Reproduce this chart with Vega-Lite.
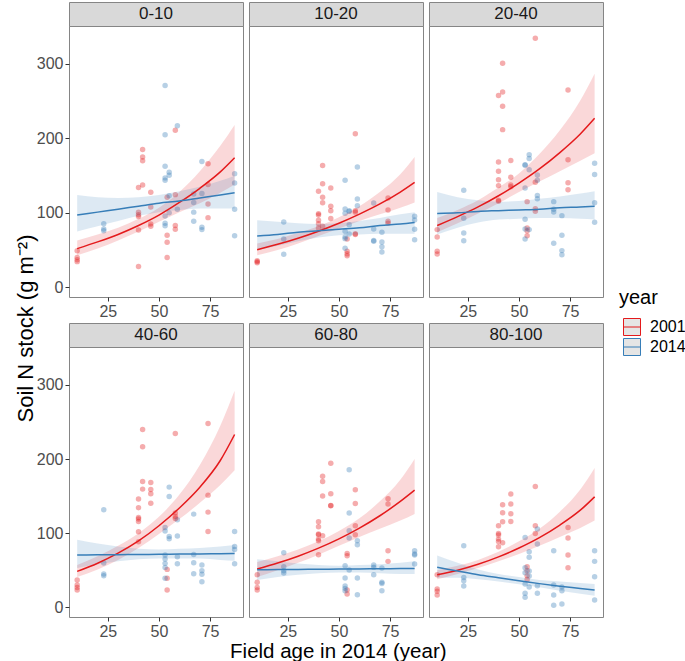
{
"$schema": "https://vega.github.io/schema/vega-lite/v6.json",
"background": "white",
"padding": {"left": 13, "top": 1, "right": 0, "bottom": 0},
"bounds": "flush",
"columns": 3,
"spacing": {"row": 0, "column": 6},
"datasets": {
"pts": [
{"depth":"0-10","year":"2001","age":10,"n":49},{"depth":"0-10","year":"2001","age":10,"n":40},{"depth":"0-10","year":"2001","age":10,"n":37},{"depth":"0-10","year":"2001","age":10,"n":34.5},
{"depth":"0-10","year":"2001","age":40,"n":28},{"depth":"0-10","year":"2001","age":40,"n":77},{"depth":"0-10","year":"2001","age":40,"n":134},{"depth":"0-10","year":"2001","age":40,"n":101},{"depth":"0-10","year":"2001","age":40,"n":97.6},{"depth":"0-10","year":"2001","age":40,"n":95},
{"depth":"0-10","year":"2001","age":42,"n":185},{"depth":"0-10","year":"2001","age":42,"n":175},{"depth":"0-10","year":"2001","age":42,"n":170},{"depth":"0-10","year":"2001","age":42,"n":137.5},
{"depth":"0-10","year":"2001","age":46,"n":127.6},{"depth":"0-10","year":"2001","age":46,"n":108},{"depth":"0-10","year":"2001","age":46,"n":85},{"depth":"0-10","year":"2001","age":46,"n":82},
{"depth":"0-10","year":"2001","age":54,"n":121},{"depth":"0-10","year":"2001","age":54,"n":70},{"depth":"0-10","year":"2001","age":54,"n":60.5},{"depth":"0-10","year":"2001","age":54,"n":40},
{"depth":"0-10","year":"2001","age":58,"n":211},{"depth":"0-10","year":"2001","age":58,"n":124.5},{"depth":"0-10","year":"2001","age":58,"n":83},{"depth":"0-10","year":"2001","age":58,"n":78},
{"depth":"0-10","year":"2001","age":74,"n":166},{"depth":"0-10","year":"2001","age":74,"n":138},{"depth":"0-10","year":"2001","age":74,"n":112},{"depth":"0-10","year":"2001","age":74,"n":93.6},
{"depth":"0-10","year":"2014","age":23,"n":85.5},{"depth":"0-10","year":"2014","age":23,"n":78.4},{"depth":"0-10","year":"2014","age":23,"n":76},
{"depth":"0-10","year":"2014","age":53,"n":271},{"depth":"0-10","year":"2014","age":53,"n":205},{"depth":"0-10","year":"2014","age":53,"n":162.6},{"depth":"0-10","year":"2014","age":53,"n":147},{"depth":"0-10","year":"2014","age":53,"n":143.8},{"depth":"0-10","year":"2014","age":53,"n":95.8},{"depth":"0-10","year":"2014","age":53,"n":86},{"depth":"0-10","year":"2014","age":53,"n":82.8},
{"depth":"0-10","year":"2014","age":55,"n":154.5},{"depth":"0-10","year":"2014","age":55,"n":150.5},{"depth":"0-10","year":"2014","age":55,"n":123},{"depth":"0-10","year":"2014","age":55,"n":100},
{"depth":"0-10","year":"2014","age":59,"n":217},{"depth":"0-10","year":"2014","age":59,"n":105},
{"depth":"0-10","year":"2014","age":67,"n":125.4},{"depth":"0-10","year":"2014","age":67,"n":114},{"depth":"0-10","year":"2014","age":67,"n":101},{"depth":"0-10","year":"2014","age":67,"n":88.7},
{"depth":"0-10","year":"2014","age":71,"n":169},{"depth":"0-10","year":"2014","age":71,"n":126},{"depth":"0-10","year":"2014","age":71,"n":80.6},{"depth":"0-10","year":"2014","age":71,"n":77.5},
{"depth":"0-10","year":"2014","age":87,"n":152.7},{"depth":"0-10","year":"2014","age":87,"n":140},{"depth":"0-10","year":"2014","age":87,"n":105},{"depth":"0-10","year":"2014","age":87,"n":69.4},

{"depth":"10-20","year":"2001","age":10,"n":35.8},{"depth":"10-20","year":"2001","age":10,"n":34.5},{"depth":"10-20","year":"2001","age":10,"n":33.1},
{"depth":"10-20","year":"2001","age":40,"n":129},{"depth":"10-20","year":"2001","age":40,"n":99},{"depth":"10-20","year":"2001","age":40,"n":97},{"depth":"10-20","year":"2001","age":40,"n":90},{"depth":"10-20","year":"2001","age":40,"n":85.5},{"depth":"10-20","year":"2001","age":40,"n":79.7},
{"depth":"10-20","year":"2001","age":42,"n":163.5},{"depth":"10-20","year":"2001","age":42,"n":139},{"depth":"10-20","year":"2001","age":42,"n":121},{"depth":"10-20","year":"2001","age":42,"n":113.7},{"depth":"10-20","year":"2001","age":42,"n":82},
{"depth":"10-20","year":"2001","age":46,"n":133.5},{"depth":"10-20","year":"2001","age":46,"n":108.8},{"depth":"10-20","year":"2001","age":46,"n":103},{"depth":"10-20","year":"2001","age":46,"n":92.3},
{"depth":"10-20","year":"2001","age":54,"n":65},{"depth":"10-20","year":"2001","age":54,"n":48.4},{"depth":"10-20","year":"2001","age":54,"n":45},{"depth":"10-20","year":"2001","age":54,"n":42.5},
{"depth":"10-20","year":"2001","age":58,"n":206.4},{"depth":"10-20","year":"2001","age":58,"n":103},{"depth":"10-20","year":"2001","age":58,"n":101},{"depth":"10-20","year":"2001","age":58,"n":72},{"depth":"10-20","year":"2001","age":58,"n":70.8},
{"depth":"10-20","year":"2001","age":74,"n":120},{"depth":"10-20","year":"2001","age":74,"n":104},{"depth":"10-20","year":"2001","age":74,"n":88.7},{"depth":"10-20","year":"2001","age":74,"n":86},
{"depth":"10-20","year":"2014","age":23,"n":87.8},{"depth":"10-20","year":"2014","age":23,"n":65},{"depth":"10-20","year":"2014","age":23,"n":44.3},
{"depth":"10-20","year":"2014","age":53,"n":143.8},{"depth":"10-20","year":"2014","age":53,"n":105.2},{"depth":"10-20","year":"2014","age":53,"n":99.4},{"depth":"10-20","year":"2014","age":53,"n":75.2},{"depth":"10-20","year":"2014","age":53,"n":67.6},{"depth":"10-20","year":"2014","age":53,"n":65.4},{"depth":"10-20","year":"2014","age":53,"n":52.4},
{"depth":"10-20","year":"2014","age":55,"n":103},{"depth":"10-20","year":"2014","age":55,"n":102},{"depth":"10-20","year":"2014","age":55,"n":84.2},{"depth":"10-20","year":"2014","age":55,"n":71.7},
{"depth":"10-20","year":"2014","age":59,"n":161.7},{"depth":"10-20","year":"2014","age":59,"n":118.7},{"depth":"10-20","year":"2014","age":59,"n":109.7},
{"depth":"10-20","year":"2014","age":67,"n":113.3},{"depth":"10-20","year":"2014","age":67,"n":78.4},{"depth":"10-20","year":"2014","age":67,"n":63},{"depth":"10-20","year":"2014","age":67,"n":61.8},
{"depth":"10-20","year":"2014","age":71,"n":73.9},{"depth":"10-20","year":"2014","age":71,"n":60.9},{"depth":"10-20","year":"2014","age":71,"n":54.6},{"depth":"10-20","year":"2014","age":71,"n":47.5},
{"depth":"10-20","year":"2014","age":87,"n":95.4},{"depth":"10-20","year":"2014","age":87,"n":90.5},{"depth":"10-20","year":"2014","age":87,"n":77.9},{"depth":"10-20","year":"2014","age":87,"n":64},

{"depth":"20-40","year":"2001","age":10,"n":77.5},{"depth":"20-40","year":"2001","age":10,"n":67.6},{"depth":"20-40","year":"2001","age":10,"n":48.4},{"depth":"20-40","year":"2001","age":10,"n":44.8},
{"depth":"20-40","year":"2001","age":40,"n":257.5},{"depth":"20-40","year":"2001","age":40,"n":168.4},{"depth":"20-40","year":"2001","age":40,"n":155.8},{"depth":"20-40","year":"2001","age":40,"n":144.6},{"depth":"20-40","year":"2001","age":40,"n":136.6},{"depth":"20-40","year":"2001","age":40,"n":116.9},{"depth":"20-40","year":"2001","age":40,"n":115.5},
{"depth":"20-40","year":"2001","age":42,"n":301},{"depth":"20-40","year":"2001","age":42,"n":262.4},{"depth":"20-40","year":"2001","age":42,"n":243.2},{"depth":"20-40","year":"2001","age":42,"n":211.8},
{"depth":"20-40","year":"2001","age":46,"n":170.2},{"depth":"20-40","year":"2001","age":46,"n":147.8},{"depth":"20-40","year":"2001","age":46,"n":137.5},{"depth":"20-40","year":"2001","age":46,"n":135.2},
{"depth":"20-40","year":"2001","age":54,"n":115.1},{"depth":"20-40","year":"2001","age":54,"n":79.7},{"depth":"20-40","year":"2001","age":54,"n":76.1},{"depth":"20-40","year":"2001","age":54,"n":69.4},
{"depth":"20-40","year":"2001","age":58,"n":334.5},{"depth":"20-40","year":"2001","age":58,"n":141},{"depth":"20-40","year":"2001","age":58,"n":105.7},{"depth":"20-40","year":"2001","age":58,"n":102.1},
{"depth":"20-40","year":"2001","age":74,"n":265},{"depth":"20-40","year":"2001","age":74,"n":171.5},{"depth":"20-40","year":"2001","age":74,"n":140.6},{"depth":"20-40","year":"2001","age":74,"n":131.2},
{"depth":"20-40","year":"2014","age":23,"n":130.3},{"depth":"20-40","year":"2014","age":23,"n":92.7},{"depth":"20-40","year":"2014","age":23,"n":73},{"depth":"20-40","year":"2014","age":23,"n":62.7},
{"depth":"20-40","year":"2014","age":53,"n":164.8},{"depth":"20-40","year":"2014","age":53,"n":163.9},{"depth":"20-40","year":"2014","age":53,"n":133.5},{"depth":"20-40","year":"2014","age":53,"n":91.4},{"depth":"20-40","year":"2014","age":53,"n":78.4},{"depth":"20-40","year":"2014","age":53,"n":65},
{"depth":"20-40","year":"2014","age":55,"n":178.2},{"depth":"20-40","year":"2014","age":55,"n":172.9},{"depth":"20-40","year":"2014","age":55,"n":158},{"depth":"20-40","year":"2014","age":55,"n":77.5},
{"depth":"20-40","year":"2014","age":59,"n":151},{"depth":"20-40","year":"2014","age":59,"n":143.8},{"depth":"20-40","year":"2014","age":59,"n":123.2},{"depth":"20-40","year":"2014","age":59,"n":119.1},
{"depth":"20-40","year":"2014","age":67,"n":115.1},{"depth":"20-40","year":"2014","age":67,"n":104.8},{"depth":"20-40","year":"2014","age":67,"n":101.2},{"depth":"20-40","year":"2014","age":67,"n":59.1},
{"depth":"20-40","year":"2014","age":71,"n":96.3},{"depth":"20-40","year":"2014","age":71,"n":69.9},{"depth":"20-40","year":"2014","age":71,"n":49.3},{"depth":"20-40","year":"2014","age":71,"n":43.9},
{"depth":"20-40","year":"2014","age":87,"n":166.6},{"depth":"20-40","year":"2014","age":87,"n":151.4},{"depth":"20-40","year":"2014","age":87,"n":113.7},{"depth":"20-40","year":"2014","age":87,"n":87.3},

{"depth":"40-60","year":"2001","age":10,"n":36.8},{"depth":"40-60","year":"2001","age":10,"n":30.1},{"depth":"40-60","year":"2001","age":10,"n":26.9},{"depth":"40-60","year":"2001","age":10,"n":23.3},
{"depth":"40-60","year":"2001","age":40,"n":146},{"depth":"40-60","year":"2001","age":40,"n":134.3},{"depth":"40-60","year":"2001","age":40,"n":121.2},{"depth":"40-60","year":"2001","age":40,"n":119},{"depth":"40-60","year":"2001","age":40,"n":115.8},{"depth":"40-60","year":"2001","age":40,"n":101.9},{"depth":"40-60","year":"2001","age":40,"n":88.5},
{"depth":"40-60","year":"2001","age":42,"n":239.8},{"depth":"40-60","year":"2001","age":42,"n":216.4},{"depth":"40-60","year":"2001","age":42,"n":169.7},{"depth":"40-60","year":"2001","age":42,"n":159.4},
{"depth":"40-60","year":"2001","age":46,"n":168.4},{"depth":"40-60","year":"2001","age":46,"n":159},{"depth":"40-60","year":"2001","age":46,"n":153.1},{"depth":"40-60","year":"2001","age":46,"n":140.5},
{"depth":"40-60","year":"2001","age":54,"n":51.2},{"depth":"40-60","year":"2001","age":54,"n":39.1},{"depth":"40-60","year":"2001","age":54,"n":23.3},
{"depth":"40-60","year":"2001","age":58,"n":234.4},{"depth":"40-60","year":"2001","age":58,"n":127.1},{"depth":"40-60","year":"2001","age":58,"n":122.6},{"depth":"40-60","year":"2001","age":58,"n":119.9},
{"depth":"40-60","year":"2001","age":74,"n":247.9},{"depth":"40-60","year":"2001","age":74,"n":151.3},{"depth":"40-60","year":"2001","age":74,"n":128.4},{"depth":"40-60","year":"2001","age":74,"n":102.4},
{"depth":"40-60","year":"2014","age":23,"n":131.6},{"depth":"40-60","year":"2014","age":23,"n":59.7},{"depth":"40-60","year":"2014","age":23,"n":44.9},{"depth":"40-60","year":"2014","age":23,"n":42.7},
{"depth":"40-60","year":"2014","age":53,"n":107.8},{"depth":"40-60","year":"2014","age":53,"n":102.8},{"depth":"40-60","year":"2014","age":53,"n":70.5},{"depth":"40-60","year":"2014","age":53,"n":65.1},{"depth":"40-60","year":"2014","age":53,"n":59.3},{"depth":"40-60","year":"2014","age":53,"n":53.9},{"depth":"40-60","year":"2014","age":53,"n":39.1},
{"depth":"40-60","year":"2014","age":55,"n":162.1},{"depth":"40-60","year":"2014","age":55,"n":149.5},{"depth":"40-60","year":"2014","age":55,"n":95.6},{"depth":"40-60","year":"2014","age":55,"n":92.5},
{"depth":"40-60","year":"2014","age":59,"n":118.1},{"depth":"40-60","year":"2014","age":59,"n":96.1},{"depth":"40-60","year":"2014","age":59,"n":68.3},{"depth":"40-60","year":"2014","age":59,"n":58.8},
{"depth":"40-60","year":"2014","age":67,"n":125.7},{"depth":"40-60","year":"2014","age":67,"n":71.4},{"depth":"40-60","year":"2014","age":67,"n":60.2},{"depth":"40-60","year":"2014","age":67,"n":45.4},
{"depth":"40-60","year":"2014","age":71,"n":57},{"depth":"40-60","year":"2014","age":71,"n":49.4},{"depth":"40-60","year":"2014","age":71,"n":44.5},{"depth":"40-60","year":"2014","age":71,"n":34.6},
{"depth":"40-60","year":"2014","age":87,"n":102.4},{"depth":"40-60","year":"2014","age":87,"n":82.2},{"depth":"40-60","year":"2014","age":87,"n":78.1},{"depth":"40-60","year":"2014","age":87,"n":58.8},

{"depth":"60-80","year":"2001","age":10,"n":44},{"depth":"60-80","year":"2001","age":10,"n":33.7},{"depth":"60-80","year":"2001","age":10,"n":26.9},{"depth":"60-80","year":"2001","age":10,"n":23.3},
{"depth":"60-80","year":"2001","age":40,"n":115.4},{"depth":"60-80","year":"2001","age":40,"n":108.7},{"depth":"60-80","year":"2001","age":40,"n":98.8},{"depth":"60-80","year":"2001","age":40,"n":97.9},{"depth":"60-80","year":"2001","age":40,"n":92},{"depth":"60-80","year":"2001","age":40,"n":89.8},{"depth":"60-80","year":"2001","age":40,"n":70.9},
{"depth":"60-80","year":"2001","age":42,"n":176.9},{"depth":"60-80","year":"2001","age":42,"n":169.7},{"depth":"60-80","year":"2001","age":42,"n":150},{"depth":"60-80","year":"2001","age":42,"n":96.5},
{"depth":"60-80","year":"2001","age":46,"n":194.4},{"depth":"60-80","year":"2001","age":46,"n":153.1},{"depth":"60-80","year":"2001","age":46,"n":137.4},{"depth":"60-80","year":"2001","age":46,"n":137},
{"depth":"60-80","year":"2001","age":54,"n":72.7},{"depth":"60-80","year":"2001","age":54,"n":69.6},{"depth":"60-80","year":"2001","age":54,"n":23.3},{"depth":"60-80","year":"2001","age":54,"n":18},
{"depth":"60-80","year":"2001","age":58,"n":158.5},{"depth":"60-80","year":"2001","age":58,"n":140.1},{"depth":"60-80","year":"2001","age":58,"n":110},{"depth":"60-80","year":"2001","age":58,"n":97.9},
{"depth":"60-80","year":"2001","age":74,"n":146.4},{"depth":"60-80","year":"2001","age":74,"n":139.2},{"depth":"60-80","year":"2001","age":74,"n":76.3},{"depth":"60-80","year":"2001","age":74,"n":62},
{"depth":"60-80","year":"2014","age":23,"n":73.6},{"depth":"60-80","year":"2014","age":23,"n":54.8},{"depth":"60-80","year":"2014","age":23,"n":49.4},{"depth":"60-80","year":"2014","age":23,"n":46.3},
{"depth":"60-80","year":"2014","age":53,"n":56.1},{"depth":"60-80","year":"2014","age":53,"n":39.5},{"depth":"60-80","year":"2014","age":53,"n":28.7},{"depth":"60-80","year":"2014","age":53,"n":25.6},{"depth":"60-80","year":"2014","age":53,"n":22.5},
{"depth":"60-80","year":"2014","age":55,"n":185.4},{"depth":"60-80","year":"2014","age":55,"n":127.1},{"depth":"60-80","year":"2014","age":55,"n":103.3},{"depth":"60-80","year":"2014","age":55,"n":93.4},{"depth":"60-80","year":"2014","age":55,"n":50.3},
{"depth":"60-80","year":"2014","age":59,"n":89.8},{"depth":"60-80","year":"2014","age":59,"n":84.4},{"depth":"60-80","year":"2014","age":59,"n":39.5},{"depth":"60-80","year":"2014","age":59,"n":17.1},
{"depth":"60-80","year":"2014","age":67,"n":57},{"depth":"60-80","year":"2014","age":67,"n":53.9},{"depth":"60-80","year":"2014","age":67,"n":44},
{"depth":"60-80","year":"2014","age":71,"n":53},{"depth":"60-80","year":"2014","age":71,"n":33.7},{"depth":"60-80","year":"2014","age":71,"n":32.3},{"depth":"60-80","year":"2014","age":71,"n":22.5},
{"depth":"60-80","year":"2014","age":87,"n":76.3},{"depth":"60-80","year":"2014","age":87,"n":71.8},{"depth":"60-80","year":"2014","age":87,"n":70.5},{"depth":"60-80","year":"2014","age":87,"n":58.4},

{"depth":"80-100","year":"2001","age":10,"n":44},{"depth":"80-100","year":"2001","age":10,"n":24.7},{"depth":"80-100","year":"2001","age":10,"n":21.6},{"depth":"80-100","year":"2001","age":10,"n":16.6},
{"depth":"80-100","year":"2001","age":40,"n":110},{"depth":"80-100","year":"2001","age":40,"n":99.7},{"depth":"80-100","year":"2001","age":40,"n":97.4},{"depth":"80-100","year":"2001","age":40,"n":92},{"depth":"80-100","year":"2001","age":40,"n":88.9},{"depth":"80-100","year":"2001","age":40,"n":81.7},
{"depth":"80-100","year":"2001","age":42,"n":138.3},{"depth":"80-100","year":"2001","age":42,"n":127.5},{"depth":"80-100","year":"2001","age":42,"n":115.4},{"depth":"80-100","year":"2001","age":42,"n":87.1},
{"depth":"80-100","year":"2001","age":46,"n":152.7},{"depth":"80-100","year":"2001","age":46,"n":139.2},{"depth":"80-100","year":"2001","age":46,"n":126.2},{"depth":"80-100","year":"2001","age":46,"n":115.8},
{"depth":"80-100","year":"2001","age":54,"n":54.8},{"depth":"80-100","year":"2001","age":54,"n":49.4},{"depth":"80-100","year":"2001","age":54,"n":42.7},{"depth":"80-100","year":"2001","age":54,"n":37.7},
{"depth":"80-100","year":"2001","age":58,"n":163},{"depth":"80-100","year":"2001","age":58,"n":110},{"depth":"80-100","year":"2001","age":58,"n":99.7},
{"depth":"80-100","year":"2001","age":74,"n":107.8},{"depth":"80-100","year":"2001","age":74,"n":93.4},{"depth":"80-100","year":"2001","age":74,"n":70.5},{"depth":"80-100","year":"2001","age":74,"n":53.4},
{"depth":"80-100","year":"2014","age":23,"n":83.1},{"depth":"80-100","year":"2014","age":23,"n":40.4},{"depth":"80-100","year":"2014","age":23,"n":35.9},{"depth":"80-100","year":"2014","age":23,"n":28.7},
{"depth":"80-100","year":"2014","age":53,"n":94.3},{"depth":"80-100","year":"2014","age":53,"n":53.4},{"depth":"80-100","year":"2014","age":53,"n":46.7},{"depth":"80-100","year":"2014","age":53,"n":31.4},{"depth":"80-100","year":"2014","age":53,"n":18.9},{"depth":"80-100","year":"2014","age":53,"n":13.5},
{"depth":"80-100","year":"2014","age":55,"n":75},{"depth":"80-100","year":"2014","age":55,"n":67.4},{"depth":"80-100","year":"2014","age":55,"n":49},{"depth":"80-100","year":"2014","age":55,"n":42.2},{"depth":"80-100","year":"2014","age":55,"n":27.4},
{"depth":"80-100","year":"2014","age":59,"n":105.5},{"depth":"80-100","year":"2014","age":59,"n":85.3},{"depth":"80-100","year":"2014","age":59,"n":29.2},{"depth":"80-100","year":"2014","age":59,"n":18.9},
{"depth":"80-100","year":"2014","age":67,"n":76.3},{"depth":"80-100","year":"2014","age":67,"n":30.1},{"depth":"80-100","year":"2014","age":67,"n":16.6},{"depth":"80-100","year":"2014","age":67,"n":2.7},
{"depth":"80-100","year":"2014","age":71,"n":27.4},{"depth":"80-100","year":"2014","age":71,"n":22.5},{"depth":"80-100","year":"2014","age":71,"n":4.5},
{"depth":"80-100","year":"2014","age":87,"n":76.3},{"depth":"80-100","year":"2014","age":87,"n":62},{"depth":"80-100","year":"2014","age":87,"n":41.3},{"depth":"80-100","year":"2014","age":87,"n":9.9}
],
"fit": [
{"depth":"0-10","year":"2001","age":10,"fit":52,"lo":43,"hi":63},{"depth":"0-10","year":"2001","age":20,"fit":61,"lo":52,"hi":71},{"depth":"0-10","year":"2001","age":30,"fit":71,"lo":63,"hi":80},{"depth":"0-10","year":"2001","age":40,"fit":83,"lo":75,"hi":92},{"depth":"0-10","year":"2001","age":50,"fit":97,"lo":88,"hi":107},{"depth":"0-10","year":"2001","age":60,"fit":114,"lo":101,"hi":128},{"depth":"0-10","year":"2001","age":70,"fit":133,"lo":113,"hi":156},{"depth":"0-10","year":"2001","age":80,"fit":155,"lo":127,"hi":190},{"depth":"0-10","year":"2001","age":87,"fit":174,"lo":138,"hi":218},
{"depth":"0-10","year":"2014","age":10,"fit":97,"lo":75,"hi":124},{"depth":"0-10","year":"2014","age":20,"fit":101,"lo":82,"hi":121},{"depth":"0-10","year":"2014","age":30,"fit":105,"lo":89,"hi":120},{"depth":"0-10","year":"2014","age":40,"fit":109,"lo":96,"hi":121},{"depth":"0-10","year":"2014","age":50,"fit":113,"lo":101,"hi":124},{"depth":"0-10","year":"2014","age":60,"fit":116,"lo":104,"hi":129},{"depth":"0-10","year":"2014","age":70,"fit":120,"lo":106,"hi":135},{"depth":"0-10","year":"2014","age":80,"fit":124,"lo":106,"hi":143},{"depth":"0-10","year":"2014","age":87,"fit":127,"lo":106,"hi":150},
{"depth":"10-20","year":"2001","age":10,"fit":50.6,"lo":43,"hi":59},{"depth":"10-20","year":"2001","age":20,"fit":57.8,"lo":50,"hi":65},{"depth":"10-20","year":"2001","age":30,"fit":66,"lo":59,"hi":73},{"depth":"10-20","year":"2001","age":40,"fit":75.4,"lo":69,"hi":82},{"depth":"10-20","year":"2001","age":50,"fit":86,"lo":79,"hi":94},{"depth":"10-20","year":"2001","age":60,"fit":98.3,"lo":89,"hi":109},{"depth":"10-20","year":"2001","age":70,"fit":112,"lo":98,"hi":128},{"depth":"10-20","year":"2001","age":80,"fit":128,"lo":107,"hi":152},{"depth":"10-20","year":"2001","age":87,"fit":141,"lo":114,"hi":175},
{"depth":"10-20","year":"2014","age":10,"fit":69,"lo":50,"hi":90},{"depth":"10-20","year":"2014","age":20,"fit":71,"lo":56,"hi":88},{"depth":"10-20","year":"2014","age":30,"fit":74,"lo":62,"hi":86},{"depth":"10-20","year":"2014","age":40,"fit":76,"lo":67,"hi":85},{"depth":"10-20","year":"2014","age":50,"fit":78,"lo":70,"hi":86},{"depth":"10-20","year":"2014","age":60,"fit":80,"lo":71,"hi":89},{"depth":"10-20","year":"2014","age":70,"fit":83,"lo":72,"hi":93},{"depth":"10-20","year":"2014","age":80,"fit":85,"lo":72,"hi":98},{"depth":"10-20","year":"2014","age":87,"fit":87,"lo":72,"hi":101},
{"depth":"20-40","year":"2001","age":10,"fit":83,"lo":74,"hi":93},{"depth":"20-40","year":"2001","age":20,"fit":95,"lo":86,"hi":104},{"depth":"20-40","year":"2001","age":30,"fit":108,"lo":99,"hi":117},{"depth":"20-40","year":"2001","age":40,"fit":123,"lo":113,"hi":134},{"depth":"20-40","year":"2001","age":50,"fit":140,"lo":128,"hi":153},{"depth":"20-40","year":"2001","age":60,"fit":159,"lo":142,"hi":179},{"depth":"20-40","year":"2001","age":70,"fit":181,"lo":156,"hi":211},{"depth":"20-40","year":"2001","age":80,"fit":206,"lo":170,"hi":251},{"depth":"20-40","year":"2001","age":87,"fit":227,"lo":180,"hi":287},
{"depth":"20-40","year":"2014","age":10,"fit":99,"lo":71,"hi":128},{"depth":"20-40","year":"2014","age":20,"fit":100,"lo":80,"hi":121},{"depth":"20-40","year":"2014","age":30,"fit":102,"lo":87,"hi":117},{"depth":"20-40","year":"2014","age":40,"fit":103,"lo":91,"hi":115},{"depth":"20-40","year":"2014","age":50,"fit":104,"lo":92,"hi":116},{"depth":"20-40","year":"2014","age":60,"fit":105,"lo":93,"hi":119},{"depth":"20-40","year":"2014","age":70,"fit":107,"lo":93,"hi":122},{"depth":"20-40","year":"2014","age":80,"fit":108,"lo":92,"hi":126},{"depth":"20-40","year":"2014","age":87,"fit":109,"lo":91,"hi":129},
{"depth":"40-60","year":"2001","age":10,"fit":48.5,"lo":41,"hi":57},{"depth":"40-60","year":"2001","age":20,"fit":59.5,"lo":51,"hi":69},{"depth":"40-60","year":"2001","age":30,"fit":73,"lo":64,"hi":83},{"depth":"40-60","year":"2001","age":40,"fit":89.5,"lo":80,"hi":100},{"depth":"40-60","year":"2001","age":50,"fit":110,"lo":99,"hi":122},{"depth":"40-60","year":"2001","age":60,"fit":134,"lo":119,"hi":152},{"depth":"40-60","year":"2001","age":70,"fit":162,"lo":141,"hi":192},{"depth":"40-60","year":"2001","age":80,"fit":198,"lo":165,"hi":245},{"depth":"40-60","year":"2001","age":87,"fit":233,"lo":185,"hi":292},
{"depth":"40-60","year":"2014","age":10,"fit":70.5,"lo":53,"hi":91},{"depth":"40-60","year":"2014","age":20,"fit":70.8,"lo":58,"hi":86},{"depth":"40-60","year":"2014","age":30,"fit":71,"lo":62,"hi":82},{"depth":"40-60","year":"2014","age":40,"fit":71.3,"lo":65,"hi":79},{"depth":"40-60","year":"2014","age":50,"fit":71.5,"lo":66,"hi":78},{"depth":"40-60","year":"2014","age":60,"fit":71.8,"lo":66,"hi":79},{"depth":"40-60","year":"2014","age":70,"fit":72.1,"lo":66,"hi":80},{"depth":"40-60","year":"2014","age":80,"fit":72.4,"lo":64,"hi":82},{"depth":"40-60","year":"2014","age":87,"fit":72.7,"lo":63,"hi":84},
{"depth":"60-80","year":"2001","age":10,"fit":51.6,"lo":41,"hi":61},{"depth":"60-80","year":"2001","age":20,"fit":59.7,"lo":50,"hi":69},{"depth":"60-80","year":"2001","age":30,"fit":69,"lo":60,"hi":78},{"depth":"60-80","year":"2001","age":40,"fit":79.8,"lo":71,"hi":89},{"depth":"60-80","year":"2001","age":50,"fit":92.3,"lo":83,"hi":103},{"depth":"60-80","year":"2001","age":60,"fit":106.8,"lo":95,"hi":120},{"depth":"60-80","year":"2001","age":70,"fit":123.5,"lo":106,"hi":143},{"depth":"60-80","year":"2001","age":80,"fit":142.8,"lo":117,"hi":172},{"depth":"60-80","year":"2001","age":87,"fit":158,"lo":126,"hi":200},
{"depth":"60-80","year":"2014","age":10,"fit":50.7,"lo":37,"hi":65},{"depth":"60-80","year":"2014","age":20,"fit":51,"lo":41,"hi":62},{"depth":"60-80","year":"2014","age":30,"fit":51.2,"lo":44,"hi":59},{"depth":"60-80","year":"2014","age":40,"fit":51.4,"lo":46,"hi":57},{"depth":"60-80","year":"2014","age":50,"fit":51.6,"lo":47,"hi":56},{"depth":"60-80","year":"2014","age":60,"fit":51.8,"lo":47,"hi":57},{"depth":"60-80","year":"2014","age":70,"fit":52.1,"lo":46,"hi":58},{"depth":"60-80","year":"2014","age":80,"fit":52.3,"lo":45,"hi":60},{"depth":"60-80","year":"2014","age":87,"fit":52.5,"lo":45,"hi":62},
{"depth":"80-100","year":"2001","age":10,"fit":44,"lo":38,"hi":50},{"depth":"80-100","year":"2001","age":20,"fit":50,"lo":45,"hi":56},{"depth":"80-100","year":"2001","age":30,"fit":58,"lo":53,"hi":64},{"depth":"80-100","year":"2001","age":40,"fit":68,"lo":62,"hi":75},{"depth":"80-100","year":"2001","age":50,"fit":80,"lo":72,"hi":89},{"depth":"80-100","year":"2001","age":60,"fit":94,"lo":83,"hi":106},{"depth":"80-100","year":"2001","age":70,"fit":111,"lo":95,"hi":129},{"depth":"80-100","year":"2001","age":80,"fit":131,"lo":107,"hi":159},{"depth":"80-100","year":"2001","age":87,"fit":149,"lo":117,"hi":188},
{"depth":"80-100","year":"2014","age":10,"fit":54,"lo":40,"hi":70},{"depth":"80-100","year":"2014","age":20,"fit":49,"lo":40,"hi":60},{"depth":"80-100","year":"2014","age":30,"fit":44,"lo":38,"hi":51},{"depth":"80-100","year":"2014","age":40,"fit":40,"lo":35,"hi":45},{"depth":"80-100","year":"2014","age":50,"fit":36,"lo":31,"hi":41},{"depth":"80-100","year":"2014","age":60,"fit":32,"lo":27,"hi":37},{"depth":"80-100","year":"2014","age":70,"fit":28.5,"lo":22.5,"hi":35},{"depth":"80-100","year":"2014","age":80,"fit":25.5,"lo":18.5,"hi":33},{"depth":"80-100","year":"2014","age":87,"fit":23.3,"lo":15.7,"hi":31.5}
]
},
"concat": [
{"width":174,"height":24,"view":{"fill":"#D9D9D9","stroke":"#858585"},"data":{"values":[{"depth":"0-10"}]},"mark":{"type":"text","fontSize":17,"color":"#1A1A1A"},"encoding":{"text":{"field":"depth","type":"nominal"}}},
{"width":174,"height":24,"view":{"fill":"#D9D9D9","stroke":"#858585"},"data":{"values":[{"depth":"10-20"}]},"mark":{"type":"text","fontSize":17,"color":"#1A1A1A"},"encoding":{"text":{"field":"depth","type":"nominal"}}},
{"width":174,"height":24,"view":{"fill":"#D9D9D9","stroke":"#858585"},"data":{"values":[{"depth":"20-40"}]},"mark":{"type":"text","fontSize":17,"color":"#1A1A1A"},"encoding":{"text":{"field":"depth","type":"nominal"}}},

{"width":174,"height":271,
 "encoding":{"x":{"field":"age","type":"quantitative","scale":{"domain":[6,91.1],"nice":false,"zero":false},"axis":{"values":[25,50,75],"title":null}}},
 "layer":[
  {"data":{"name":"pts"},"transform":[{"filter":"datum.depth === '0-10'"}],"mark":{"type":"circle","size":30,"opacity":0.36},
   "encoding":{"y":{"field":"n","type":"quantitative","scale":{"domain":[-13,351],"nice":false,"zero":false},"axis":{"values":[0,100,200,300],"title":"Soil N stock (g m\u207B\u00B2)","titleX":-37,"titleY":302,"titleBaseline":"alphabetic","titleFontSize":22}},
    "fill":{"field":"year","type":"nominal","scale":{"range":["#E41A1C","#377EB8"]},"legend":null}}},
  {"data":{"name":"fit"},"transform":[{"filter":"datum.depth === '0-10'"}],"mark":{"type":"area","opacity":0.17,"interpolate":"monotone"},
   "encoding":{"y":{"field":"lo","type":"quantitative","axis":{"values":[0,100,200,300],"title":"Soil N stock (g m\u207B\u00B2)","titleX":-37,"titleY":302,"titleBaseline":"alphabetic","titleFontSize":22}},"y2":{"field":"hi"},"fill":{"field":"year","type":"nominal","legend":null}}},
  {"data":{"name":"fit"},"transform":[{"filter":"datum.depth === '0-10'"}],"mark":{"type":"line","strokeWidth":1.5,"interpolate":"monotone"},
   "encoding":{"y":{"field":"fit","type":"quantitative","axis":{"values":[0,100,200,300],"title":"Soil N stock (g m\u207B\u00B2)","titleX":-37,"titleY":302,"titleBaseline":"alphabetic","titleFontSize":22}},
    "stroke":{"field":"year","type":"nominal","scale":{"domain":["2001","2014"],"range":["#E41A1C","#377EB8"]},
     "legend":{"orient":"none","legendX":550,"legendY":286,"title":"year","symbolType":"M-1,-1H1V1H-1Z M-1,0H1","symbolSize":289,"symbolStrokeWidth":1,"symbolFillColor":"#E5E5E5","symbolOpacity":1,"titleFontSize":20,"titleFontWeight":"normal","titleColor":"#000000","labelFontSize":16,"labelColor":"#000000","rowPadding":-6,"titlePadding":10,"labelOffset":9,"symbolOffset":4,"padding":0}}}}
 ]},
{"width":174,"height":271,
 "encoding":{"x":{"field":"age","type":"quantitative","scale":{"domain":[6,91.1],"nice":false,"zero":false},"axis":{"values":[25,50,75],"title":null}}},
 "layer":[
  {"data":{"name":"pts"},"transform":[{"filter":"datum.depth === '10-20'"}],"mark":{"type":"circle","size":30,"opacity":0.36},
   "encoding":{"y":{"field":"n","type":"quantitative","scale":{"domain":[-13,351],"nice":false,"zero":false},"axis":null},"fill":{"field":"year","type":"nominal","legend":null}}},
  {"data":{"name":"fit"},"transform":[{"filter":"datum.depth === '10-20'"}],"mark":{"type":"area","opacity":0.17,"interpolate":"monotone"},
   "encoding":{"y":{"field":"lo","type":"quantitative","axis":null},"y2":{"field":"hi"},"fill":{"field":"year","type":"nominal","legend":null}}},
  {"data":{"name":"fit"},"transform":[{"filter":"datum.depth === '10-20'"}],"mark":{"type":"line","strokeWidth":1.5,"interpolate":"monotone"},
   "encoding":{"y":{"field":"fit","type":"quantitative","axis":null},"stroke":{"field":"year","type":"nominal"}}}
 ]},
{"width":174,"height":271,
 "encoding":{"x":{"field":"age","type":"quantitative","scale":{"domain":[6,91.1],"nice":false,"zero":false},"axis":{"values":[25,50,75],"title":null}}},
 "layer":[
  {"data":{"name":"pts"},"transform":[{"filter":"datum.depth === '20-40'"}],"mark":{"type":"circle","size":30,"opacity":0.36},
   "encoding":{"y":{"field":"n","type":"quantitative","scale":{"domain":[-13,351],"nice":false,"zero":false},"axis":null},"fill":{"field":"year","type":"nominal","legend":null}}},
  {"data":{"name":"fit"},"transform":[{"filter":"datum.depth === '20-40'"}],"mark":{"type":"area","opacity":0.17,"interpolate":"monotone"},
   "encoding":{"y":{"field":"lo","type":"quantitative","axis":null},"y2":{"field":"hi"},"fill":{"field":"year","type":"nominal","legend":null}}},
  {"data":{"name":"fit"},"transform":[{"filter":"datum.depth === '20-40'"}],"mark":{"type":"line","strokeWidth":1.5,"interpolate":"monotone"},
   "encoding":{"y":{"field":"fit","type":"quantitative","axis":null},"stroke":{"field":"year","type":"nominal"}}}
 ]},

{"width":174,"height":26,"view":{"fill":"transparent","stroke":"transparent"},"data":{"values":[{"depth":""}]},"mark":{"type":"text","fontSize":1},"encoding":{"text":{"field":"depth","type":"nominal"}}},
{"width":174,"height":26,"view":{"fill":"transparent","stroke":"transparent"},"data":{"values":[{"depth":""}]},"mark":{"type":"text","fontSize":1},"encoding":{"text":{"field":"depth","type":"nominal"}}},
{"width":174,"height":26,"view":{"fill":"transparent","stroke":"transparent"},"data":{"values":[{"depth":""}]},"mark":{"type":"text","fontSize":1},"encoding":{"text":{"field":"depth","type":"nominal"}}},

{"width":174,"height":24,"view":{"fill":"#D9D9D9","stroke":"#858585"},"data":{"values":[{"depth":"40-60"}]},"mark":{"type":"text","fontSize":17,"color":"#1A1A1A"},"encoding":{"text":{"field":"depth","type":"nominal"}}},
{"width":174,"height":24,"view":{"fill":"#D9D9D9","stroke":"#858585"},"data":{"values":[{"depth":"60-80"}]},"mark":{"type":"text","fontSize":17,"color":"#1A1A1A"},"encoding":{"text":{"field":"depth","type":"nominal"}}},
{"width":174,"height":24,"view":{"fill":"#D9D9D9","stroke":"#858585"},"data":{"values":[{"depth":"80-100"}]},"mark":{"type":"text","fontSize":17,"color":"#1A1A1A"},"encoding":{"text":{"field":"depth","type":"nominal"}}},

{"width":174,"height":270,
 "encoding":{"x":{"field":"age","type":"quantitative","scale":{"domain":[6,91.1],"nice":false,"zero":false},"axis":{"values":[25,50,75],"title":null}}},
 "layer":[
  {"data":{"name":"pts"},"transform":[{"filter":"datum.depth === '40-60'"}],"mark":{"type":"circle","size":30,"opacity":0.36},
   "encoding":{"y":{"field":"n","type":"quantitative","scale":{"domain":[-13,351],"nice":false,"zero":false},"axis":{"values":[0,100,200,300],"title":null}},"fill":{"field":"year","type":"nominal","legend":null}}},
  {"data":{"name":"fit"},"transform":[{"filter":"datum.depth === '40-60'"}],"mark":{"type":"area","opacity":0.17,"interpolate":"monotone"},
   "encoding":{"y":{"field":"lo","type":"quantitative","axis":{"values":[0,100,200,300],"title":null}},"y2":{"field":"hi"},"fill":{"field":"year","type":"nominal","legend":null}}},
  {"data":{"name":"fit"},"transform":[{"filter":"datum.depth === '40-60'"}],"mark":{"type":"line","strokeWidth":1.5,"interpolate":"monotone"},
   "encoding":{"y":{"field":"fit","type":"quantitative","axis":{"values":[0,100,200,300],"title":null}},"stroke":{"field":"year","type":"nominal"}}}
 ]},
{"width":174,"height":270,
 "encoding":{"x":{"field":"age","type":"quantitative","scale":{"domain":[6,91.1],"nice":false,"zero":false},"axis":{"values":[25,50,75],"title":"Field age in 2014 (year)","titleX":88.8,"titleY":40,"titleBaseline":"alphabetic","titleFontSize":20.5}}},
 "layer":[
  {"data":{"name":"pts"},"transform":[{"filter":"datum.depth === '60-80'"}],"mark":{"type":"circle","size":30,"opacity":0.36},
   "encoding":{"y":{"field":"n","type":"quantitative","scale":{"domain":[-13,351],"nice":false,"zero":false},"axis":null},"fill":{"field":"year","type":"nominal","legend":null}}},
  {"data":{"name":"fit"},"transform":[{"filter":"datum.depth === '60-80'"}],"mark":{"type":"area","opacity":0.17,"interpolate":"monotone"},
   "encoding":{"y":{"field":"lo","type":"quantitative","axis":null},"y2":{"field":"hi"},"fill":{"field":"year","type":"nominal","legend":null}}},
  {"data":{"name":"fit"},"transform":[{"filter":"datum.depth === '60-80'"}],"mark":{"type":"line","strokeWidth":1.5,"interpolate":"monotone"},
   "encoding":{"y":{"field":"fit","type":"quantitative","axis":null},"stroke":{"field":"year","type":"nominal"}}}
 ]},
{"width":174,"height":270,
 "encoding":{"x":{"field":"age","type":"quantitative","scale":{"domain":[6,91.1],"nice":false,"zero":false},"axis":{"values":[25,50,75],"title":null}}},
 "layer":[
  {"data":{"name":"pts"},"transform":[{"filter":"datum.depth === '80-100'"}],"mark":{"type":"circle","size":30,"opacity":0.36},
   "encoding":{"y":{"field":"n","type":"quantitative","scale":{"domain":[-13,351],"nice":false,"zero":false},"axis":null},"fill":{"field":"year","type":"nominal","legend":null}}},
  {"data":{"name":"fit"},"transform":[{"filter":"datum.depth === '80-100'"}],"mark":{"type":"area","opacity":0.17,"interpolate":"monotone"},
   "encoding":{"y":{"field":"lo","type":"quantitative","axis":null},"y2":{"field":"hi"},"fill":{"field":"year","type":"nominal","legend":null}}},
  {"data":{"name":"fit"},"transform":[{"filter":"datum.depth === '80-100'"}],"mark":{"type":"line","strokeWidth":1.5,"interpolate":"monotone"},
   "encoding":{"y":{"field":"fit","type":"quantitative","axis":null},"stroke":{"field":"year","type":"nominal"}}}
 ]}
],
"config": {
 "font": "Liberation Sans",
 "view": {"stroke": "#858585", "strokeWidth": 1},
 "axis": {"grid": false, "domain": false, "tickSize": 4, "tickColor": "#333333", "tickWidth": 1, "labelColor": "#4D4D4D", "labelFontSize": 16, "labelPadding": 2, "titleFontSize": 20, "titleFontWeight": "normal", "titleColor": "#000000"}
}
}
